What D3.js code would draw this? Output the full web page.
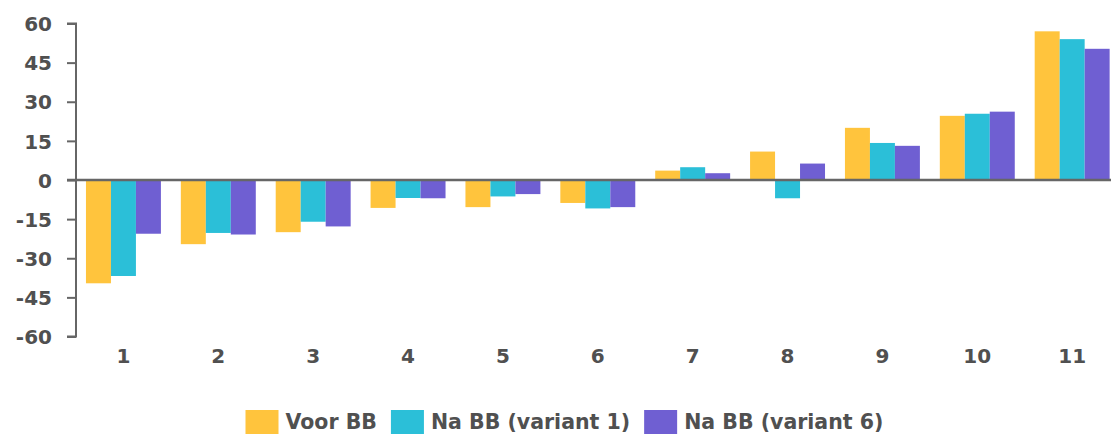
<!DOCTYPE html>
<html>
<head>
<meta charset="utf-8">
<script src="https://cdn.jsdelivr.net/npm/d3@7"></script>
<style>
  html, body { margin: 0; padding: 0; background: #fff; }
  svg { display: block; }
  text { font-family: "DejaVu Sans", sans-serif; font-weight: 700; fill: #505050; }
</style>
</head>
<body>
<svg id="chart" width="1111" height="434"></svg>
<script>
const categories = ["1","2","3","4","5","6","7","8","9","10","11"];
const seriesNames = ["Voor BB", "Na BB (variant 1)", "Na BB (variant 6)"];
const voorBB   = [-39.6, -24.6, -20.0, -10.7, -10.4, -8.8, 3.6, 10.9, 20.0, 24.6, 57.0];
const naBBv1   = [-36.8, -20.3, -16.0, -6.9, -6.3, -10.9, 4.9, -7.0, 14.2, 25.4, 54.0];
const naBBv6   = [-20.6, -20.9, -17.8, -7.0, -5.4, -10.4, 2.6, 6.3, 13.1, 26.2, 50.3];
const yTicks   = [-60, -45, -30, -15, 0, 15, 30, 45, 60];
const colors   = ["#FFC43D", "#2BBFD8", "#6F5FD2"];

const seriesValues = [voorBB, naBBv1, naBBv6];

const svg = d3.select("#chart");
const mLeft = 76, mRight = 1119.6, mTop = 23.5, mBottom = 336.5;

const x0 = d3.scaleBand().domain(categories).range([mLeft, mRight]).paddingInner(0.21).paddingOuter(0.105);
const x1 = d3.scaleBand().domain(d3.range(seriesNames.length)).range([0, x0.bandwidth()]);
const y = d3.scaleLinear().domain([-60, 60]).range([mBottom, mTop]);

// bars
const groups = svg.append("g").selectAll("g").data(categories).join("g")
  .attr("transform", d => `translate(${x0(d)},0)`);
groups.selectAll("rect")
  .data((d, i) => seriesValues.map((s, k) => ({k, v: s[i]})))
  .join("rect")
  .attr("x", d => x1(d.k))
  .attr("width", x1.bandwidth())
  .attr("y", d => y(Math.max(0, d.v)))
  .attr("height", d => Math.abs(y(d.v) - y(0)))
  .attr("fill", d => colors[d.k]);

// y axis
const yAxis = svg.append("g").attr("transform", `translate(${mLeft},0)`)
  .call(d3.axisLeft(y).tickValues(yTicks).tickSize(9).tickPadding(15).tickFormat(d => String(d)));
yAxis.select(".domain").attr("stroke", "#666").attr("stroke-width", 2).attr("d", `M-9,${mTop}H0V${mBottom}H-9`);
yAxis.selectAll(".tick line").attr("stroke", "#666").attr("stroke-width", 2);
yAxis.selectAll(".tick text").style("font-size", "20px").style("font-family", "'DejaVu Sans', sans-serif")
  .attr("dy", "0.36em").style("fill", "#505050");

// zero line
svg.append("line").attr("x1", mLeft - 9).attr("x2", 1111).attr("y1", y(0)).attr("y2", y(0))
  .attr("stroke", "#666").attr("stroke-width", 2.5);

// x labels
const xAxis = svg.append("g").attr("transform", `translate(0,${mBottom})`)
  .call(d3.axisBottom(x0).tickSize(0).tickPadding(12));
xAxis.select(".domain").remove();
xAxis.selectAll(".tick text").style("font-size", "20px").style("font-family", "'DejaVu Sans', sans-serif")
  .attr("dy", "0.71em").style("fill", "#505050");

// legend
const legend = svg.append("g");
let lx = 245.5;
seriesNames.forEach((name, k) => {
  legend.append("rect").attr("x", lx).attr("y", 410).attr("width", 33).attr("height", 24).attr("fill", colors[k]);
  const t = legend.append("text").attr("x", lx + 40).attr("y", 429).style("font-size", "20.5px").text(name);
  const w = t.node().getComputedTextLength();
  lx = lx + 40 + w + 14;
});
</script>
</body>
</html>
